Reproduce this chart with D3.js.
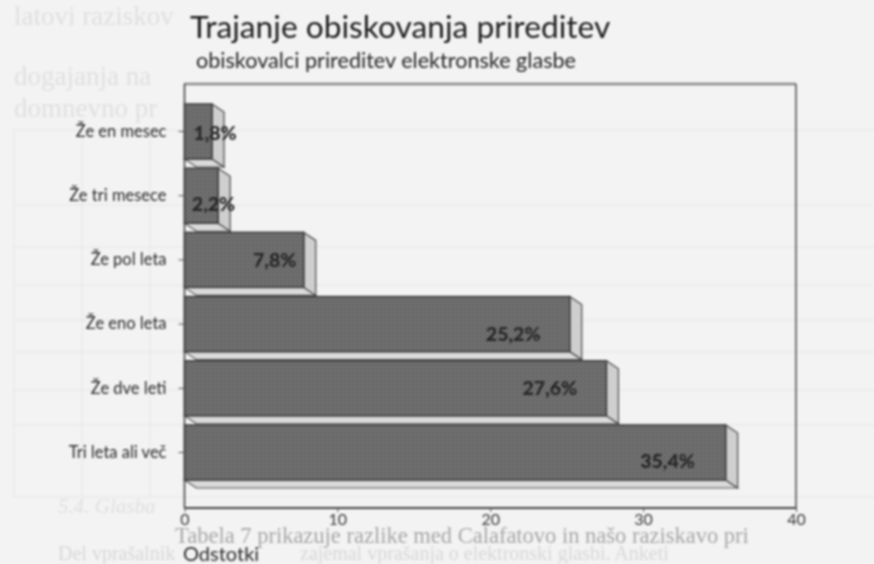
<!DOCTYPE html>
<html><head><meta charset="utf-8">
<script src="https://cdn.jsdelivr.net/npm/d3@7/dist/d3.min.js"></script>
<style>html,body{margin:0;padding:0;background:#f3f3f3;overflow:hidden}svg{display:block}</style>
</head><body><div id="c"></div>
<script>
const categories=["Že en mesec","Že tri mesece","Že pol leta","Že eno leta","Že dve leti","Tri leta ali več"];
const values=[1.8,2.2,7.8,25.2,27.6,35.4];
const valueLabels=["1,8%","2,2%","7,8%","25,2%","27,6%","35,4%"];
const labelAnchors=[2.0,1.9,5.9,21.5,23.9,31.6];
const xTicks=[0,10,20,30,40];
const titleText="Trajanje obiskovanja prireditev";
const subtitleText="obiskovalci prireditev elektronske glasbe";
const xAxisTitle="Odstotki";
const pageFragments=["latovi raziskov","dogajanja na","domnevno pr","5.4. Glasba"];
const captionLines=["Tabela 7 prikazuje razlike med Calafatovo in našo raziskavo pri","Del vprašalnik","zajemal vprašanja o elektronski glasbi. Anketi"];

const W=874,H=564;
const svg=d3.select("#c").append("svg").attr("width",W).attr("height",H).style("filter","blur(0.8px)");
svg.append("rect").attr("width",W).attr("height",H).attr("fill","#f3f3f3");
const pat=svg.append("defs").append("pattern").attr("id","dots").attr("width",4).attr("height",4).attr("patternUnits","userSpaceOnUse");
pat.append("rect").attr("width",4).attr("height",4).attr("fill","#858585");
pat.append("rect").attr("width",2).attr("height",2).attr("fill","#4e4e4e");
pat.append("rect").attr("x",2).attr("y",2).attr("width",2).attr("height",2).attr("fill","#585858");

// the facing page that shows through the scan
const page=svg.append("g");
[130,205,247,285,320,352,390,425,497].forEach(v=>page.append("line").attr("x1",14).attr("x2",W).attr("y1",v).attr("y2",v).attr("stroke","#e5e5e5"));
[14,82,150].forEach(v=>page.append("line").attr("x1",v).attr("x2",v).attr("y1",130).attr("y2",497).attr("stroke","#e5e5e5"));
const fragPos=[[14,25,27],[14,85,27],[14,117,27],[58,513,21]];
page.selectAll("text.p").data(pageFragments).join("text").attr("class","p")
 .attr("x",(d,i)=>fragPos[i][0]).attr("y",(d,i)=>fragPos[i][1]).attr("font-size",(d,i)=>fragPos[i][2])
 .attr("font-family","Liberation Serif").attr("font-style",(d,i)=>i==3?"italic":"normal").attr("fill","#e0e0e0").text(d=>d);
const capPos=[[175,543,22.5,"#a8a8a8"],[58,560,20,"#d8d8d8"],[300,560,20,"#d8d8d8"]];
page.selectAll("text.c").data(captionLines).join("text").attr("class","c")
 .attr("x",(d,i)=>capPos[i][0]).attr("y",(d,i)=>capPos[i][1]).attr("font-size",(d,i)=>capPos[i][2])
 .attr("font-family","Liberation Serif").attr("fill",(d,i)=>capPos[i][3]).text(d=>d);

const x=d3.scaleLinear().domain([0,40]).range([184.5,796]);
const y=d3.scaleBand().domain(categories).range([104,480]).paddingInner(0.143).paddingOuter(0);
const frameTop=84,frameBottom=508,dx=12,dy=8;

// plot frame
svg.append("line").attr("x1",x(40)).attr("x2",x(40)).attr("y1",frameTop).attr("y2",frameBottom).attr("stroke","#666").attr("stroke-width",1.8);
svg.append("line").attr("x1",x(0)).attr("x2",x(40)).attr("y1",frameTop).attr("y2",frameTop).attr("stroke","#555").attr("stroke-width",2.5).attr("stroke-dasharray","2 1");

const rows=categories.map((c,i)=>({c,v:values[i],l:valueLabels[i],a:labelAnchors[i],nudge:[1,8,0,10,0,9][i]}));
const g=svg.append("g");
rows.forEach(r=>{
 const x0=x(0),x1=x(r.v),y0=y(r.c),y1=y0+y.bandwidth();
 const poly=p=>g.append("polygon").attr("points",p.map(q=>q.join(",")).join(" "));
 poly([[x0,y1],[x1,y1],[x1+dx,y1+dy],[x0+dx,y1+dy]]).attr("fill","#dadada").attr("stroke","#555").attr("stroke-width",1.1);
 poly([[x1,y0],[x1+dx,y0+dy],[x1+dx,y1+dy],[x1,y1]]).attr("fill","#cfcfcf").attr("stroke","#4a4a4a").attr("stroke-width",1.2);
 g.append("rect").attr("x",x0).attr("y",y0).attr("width",x1-x0).attr("height",y1-y0)
  .attr("fill","url(#dots)").attr("stroke","#3c3c3c").attr("stroke-width",1.5);
});
rows.forEach(r=>{
 g.append("text").attr("x",x(r.a)).attr("y",y(r.c)+y.bandwidth()/2+7+r.nudge).attr("text-anchor","middle")
  .attr("font-family","Lato").attr("font-weight",900).attr("font-size",19.5).attr("fill","#262626").text(r.l);
});

// axes
const yg=svg.append("g").attr("transform",`translate(${x(0)},0)`).call(d3.axisLeft(y).tickSize(6).tickPadding(12));
yg.select(".domain").attr("d",`M0,${frameTop}V${frameBottom}`).attr("stroke","#444").attr("stroke-width",1.6);
yg.selectAll("line").attr("stroke","#555");
yg.selectAll("text").attr("font-family","Lato").attr("font-size",16.5).attr("fill","#2a2a2a");

const xg=svg.append("g").attr("transform",`translate(0,${frameBottom})`).call(d3.axisBottom(x).tickValues(xTicks).tickSize(4).tickPadding(2));
xg.select(".domain").attr("d",`M${x(0)},0H${x(40)}`).attr("stroke","#444").attr("stroke-width",1.8);
xg.selectAll("line").attr("stroke","#555");
xg.selectAll("text").attr("font-family","Lato").attr("font-size",16).attr("fill","#3a3a3a");

// titles
svg.append("text").attr("x",190).attr("y",38).attr("font-family","Lato").attr("font-size",31.7).attr("fill","#1d1d1d").text(titleText);
svg.append("text").attr("x",196).attr("y",68).attr("font-family","Lato").attr("font-size",21.6).attr("fill","#262626").text(subtitleText);
svg.append("text").attr("x",183).attr("y",561).attr("font-family","Lato").attr("font-size",20).attr("fill","#2a2a2a").text(xAxisTitle);
</script></body></html>
